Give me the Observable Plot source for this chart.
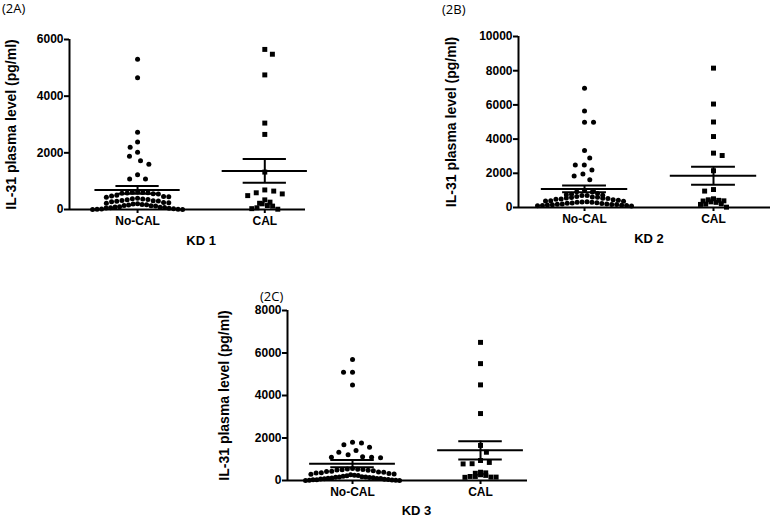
<!DOCTYPE html>
<html><head><meta charset="utf-8">
<script src="https://cdn.jsdelivr.net/npm/d3@7"></script>
<script src="https://cdn.jsdelivr.net/npm/@observablehq/plot@0.6"></script>
<style>
html,body{margin:0;padding:0;background:#fff;}
#root{position:relative;width:779px;height:520px;overflow:hidden;background:#fff;}
.panel{position:absolute;}
.tag{position:absolute;font-family:"Open Sans",sans-serif;font-size:13px;line-height:1;color:#000;white-space:nowrap;}
</style></head><body><div id="root"></div>
<script>
// ---------- data ----------
const groups = ["No-CAL", "CAL"];
const yLabel = "IL-31 plasma level (pg/ml)";
const panelTags = ["(2A)", "(2B)", "(2C)"];
const xLabels = ["KD 1", "KD 2", "KD 3"];

const kd1NoCal = [5300, 4650, 2730, 2380, 2200, 2020, 1880, 1720, 1600, 1230, 1080, 1080,
  620, 610, 600, 590, 580, 570, 560, 550,
  500, 480, 460, 450, 430,
  400, 380, 370, 350, 340, 320, 310, 300,
  290, 270, 250, 240, 220, 200, 190, 180, 170, 160,
  140, 130, 120, 100, 90, 80, 70, 60, 50, 40, 30, 20, 10, 5, 0, 0];
const kd1Cal = [5650, 5480, 4750, 3050, 2650, 1320, 690, 650, 590, 550, 490, 340, 260, 220, 200, 140, 120, 60, 30, 10];

const kd2NoCal = [6980, 5650, 4980, 4980, 3330, 2900, 2480, 2480, 2200, 1960, 1840, 1620,
  1000, 950, 920, 900,
  820, 780, 750, 720, 700, 700,
  650, 620, 600, 580, 560, 540, 520, 500,
  480, 450, 430, 400, 380, 360, 340, 320, 300, 300,
  280, 260, 250, 230, 210, 200, 190, 180, 170, 160,
  140, 130, 120, 110, 100, 90];
const kd2Cal = [8150, 6050, 5000, 4150, 3180, 3040, 2150, 1050, 960, 510, 450, 420, 390, 380, 330, 300, 220, 200, 180, 20];

const kd3NoCal = [5700, 5100, 5100, 4500, 1800, 1760, 1680, 1570, 1410, 1330, 1210, 1120, 1100, 1090, 1070,
  560, 540, 530, 520, 510, 500,
  480, 460, 440, 420, 400, 390,
  370, 350, 330, 310, 290, 270, 250,
  240, 220, 200, 180, 170, 160, 150, 140, 130, 120,
  110, 100, 90, 80, 70, 60, 50, 40, 30, 20, 15, 10, 5, 0];
const kd3Cal = [6500, 5500, 4500, 3150, 1650, 1330, 940, 850, 790, 780, 390, 360, 340, 270, 240, 190, 190, 160, 160, 150];

const kd1Ticks = [0, 2000, 4000, 6000];
const kd2Ticks = [0, 2000, 4000, 6000, 8000, 10000];
const kd3Ticks = [0, 2000, 4000, 6000, 8000];

// ---------- layout ----------
const layouts = [
  {left: 0,   top: 0,   width: 312, height: 250, ml: 69, mr: 7,  mt: 39, mb: 41, xDomain: [-0.535, 1.32], tagX: 2,   tagY: 2,   dxY: -58, dyX: 31, wmax: [45, 24]},
  {left: 420, top: 0,   width: 359, height: 250, ml: 98, mr: 9,  mt: 36, mb: 43, xDomain: [-0.512, 1.442], tagX: 442, tagY: 3, dxY: -67, dyX: 31, wmax: [47, 36]},
  {left: 190, top: 280, width: 350, height: 240, ml: 97, mr: 13, mt: 30, mb: 40, xDomain: [-0.508, 1.367], tagX: 260, tagY: 290, dxY: -63, dyX: 30, wmax: [47, 32]}
];
const series = [[kd1NoCal, kd1Cal], [kd2NoCal, kd2Cal], [kd3NoCal, kd3Cal]];
const tickSets = [kd1Ticks, kd2Ticks, kd3Ticks];

// sparse points: beeswarm with generous spacing; crowded rows: binned rows, highest value in the middle
function layout(ys, y0, diam, wmax) {
  const n = ys.length;
  const order = d3.range(n).sort((a, b) => ys[a] - ys[b]);
  const placed = [];
  const bee = new Array(n);
  let flip = 1;
  for (const i of order) {
    const yi = ys[i];
    const cands = [0];
    for (const p of placed) {
      const dy = Math.abs(p.y - yi);
      if (dy < diam) {
        const dx = Math.sqrt(diam * diam - dy * dy);
        cands.push(p.x + dx, p.x - dx);
      }
    }
    cands.sort((a, b) => Math.abs(a) - Math.abs(b) || (a - b) * flip);
    let best = 0;
    for (const c of cands) {
      if (placed.every(p => (p.x - c) ** 2 + (p.y - yi) ** 2 >= diam * diam - 1e-6)) { best = c; break; }
    }
    flip = -flip;
    placed.push({x: best, y: yi});
    bee[i] = best;
  }
  // binned rows
  const h = 6, step = 5.2;
  const bins = d3.group(d3.range(n), i => Math.floor((y0 - ys[i]) / h));
  const row = new Array(n);
  for (const idx of bins.values()) {
    const m = idx.length;
    const s = m > 1 ? Math.min(step, 2 * wmax / (m - 1)) : 0;
    const slots = d3.range(m).map(j => (j - (m - 1) / 2) * s);
    const slotOrder = d3.range(m).sort((a, b) => Math.abs(slots[a]) - Math.abs(slots[b]) || (a % 2 ? 1 : -1) * (slots[a] - slots[b]));
    const sorted = idx.slice().sort((a, b) => ys[a] - ys[b]);
    sorted.forEach((i, k) => row[i] = slots[slotOrder[k]]);
  }
  return d3.range(n).map(i => {
    let w = 0;
    for (let j = 0; j < n; j++) if (Math.abs(ys[j] - ys[i]) < diam * 0.6) w = Math.max(w, Math.abs(bee[j]));
    return w > wmax ? row[i] : bee[i];
  });
}

const root = document.getElementById("root");

layouts.forEach((L, pi) => {
  const ticks = tickSets[pi];
  const yMax = ticks[ticks.length - 1];
  const yPix = d3.scaleLinear([0, yMax], [L.height - L.mb, L.mt]);
  const pxPerUnit = (L.width - L.ml - L.mr) / (L.xDomain[1] - L.xDomain[0]);
  const pts = [];
  series[pi].forEach((vals, gi) => {
    const offs = layout(vals.map(v => yPix(v)), yPix(0), 9, L.wmax[gi]);
    vals.forEach((v, k) => pts.push({gi, value: v, x: gi + offs[k] / pxPerUnit}));
  });
  const stats = series[pi].map((vals, gi) => {
    const m = d3.mean(vals);
    const s = d3.deviation(vals) / Math.sqrt(vals.length);
    return {gi, mean: m, lo: m - s, hi: m + s};
  });
  const plot = Plot.plot({
    width: L.width, height: L.height,
    marginLeft: L.ml, marginRight: L.mr, marginTop: L.mt, marginBottom: L.mb,
    style: {fontFamily: "'Liberation Sans', Arial, sans-serif", fontWeight: "bold", fontSize: "12px", background: "transparent", overflow: "visible"},
    x: {domain: L.xDomain},
    y: {domain: [0, yMax]},
    marks: [
      Plot.axisY({ticks, tickSize: 5, tickPadding: 1, tickFormat: d3.format("d"), label: null, strokeWidth: 2}),
      Plot.axisX({ticks: [0, 1], tickFormat: i => groups[i], tickSize: 4, tickPadding: 3, label: null, strokeWidth: 2}),
      Plot.ruleY([0], {strokeWidth: 2}),
      Plot.ruleX([L.xDomain[0]], {strokeWidth: 2}),
      Plot.dot(pts.filter(d => d.gi === 0), {x: "x", y: "value", r: 2.5, fill: "black", symbol: "circle"}),
      Plot.dot(pts.filter(d => d.gi === 1), {x: "x", y: "value", r: 2.8, fill: "black", symbol: "square"}),
      Plot.ruleY(stats, {y: "mean", x1: d => d.gi - 0.335, x2: d => d.gi + 0.335, strokeWidth: 2}),
      Plot.ruleY(stats, {y: "hi", x1: d => d.gi - 0.17, x2: d => d.gi + 0.17, strokeWidth: 2}),
      Plot.ruleY(stats, {y: "lo", x1: d => d.gi - 0.17, x2: d => d.gi + 0.17, strokeWidth: 2}),
      Plot.ruleX(stats, {x: "gi", y1: "lo", y2: "hi", strokeWidth: 2}),
      Plot.text([xLabels[pi]], {x: () => 0.5, y: () => 0, text: d => d, dy: L.dyX, fontSize: 13}),
      Plot.text([yLabel], {frameAnchor: "left", textAnchor: "middle", text: d => d, rotate: -90, dx: L.dxY, fontSize: 14})
    ]
  });
  plot.classList.add("panel");
  plot.style.left = L.left + "px";
  plot.style.top = L.top + "px";
  plot.style.position = "absolute";
  root.appendChild(plot);
  const tag = document.createElement("div");
  tag.className = "tag";
  tag.textContent = panelTags[pi];
  tag.style.left = L.tagX + "px";
  tag.style.top = L.tagY + "px";
  root.appendChild(tag);
});
</script></body></html>
